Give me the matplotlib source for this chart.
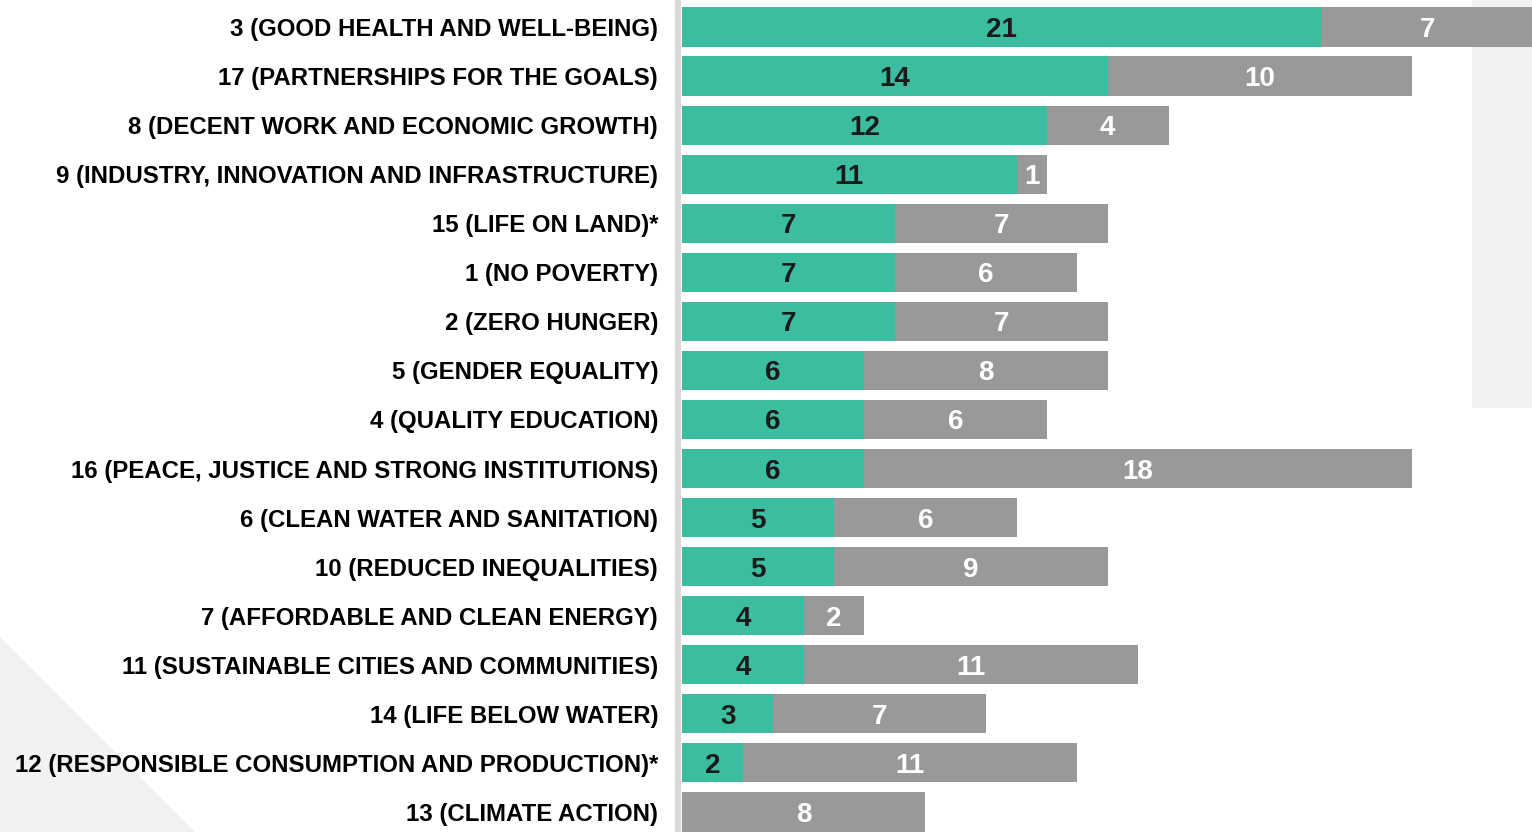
import matplotlib
matplotlib.use("Agg")
import matplotlib.pyplot as plt
from matplotlib.patches import Polygon, Rectangle

categories = [
    "3 (GOOD HEALTH AND WELL-BEING)",
    "17 (PARTNERSHIPS FOR THE GOALS)",
    "8 (DECENT WORK AND ECONOMIC GROWTH)",
    "9 (INDUSTRY, INNOVATION AND INFRASTRUCTURE)",
    "15 (LIFE ON LAND)*",
    "1 (NO POVERTY)",
    "2 (ZERO HUNGER)",
    "5 (GENDER EQUALITY)",
    "4 (QUALITY EDUCATION)",
    "16 (PEACE, JUSTICE AND STRONG INSTITUTIONS)",
    "6 (CLEAN WATER AND SANITATION)",
    "10 (REDUCED INEQUALITIES)",
    "7 (AFFORDABLE AND CLEAN ENERGY)",
    "11 (SUSTAINABLE CITIES AND COMMUNITIES)",
    "14 (LIFE BELOW WATER)",
    "12 (RESPONSIBLE CONSUMPTION AND PRODUCTION)*",
    "13 (CLIMATE ACTION)",
]
series_a = [21, 14, 12, 11, 7, 7, 7, 6, 6, 6, 5, 5, 4, 4, 3, 2, 0]
series_b = [7, 10, 4, 1, 7, 6, 7, 8, 6, 18, 6, 9, 2, 11, 7, 11, 8]

TEAL = "#3dbda0"
GRAY = "#999999"
BG = "#f2f2f2"

plt.rcParams["font.family"] = ["Liberation Sans", "DejaVu Sans"]
plt.rcParams["font.weight"] = "bold"

W, H = 1532, 832
fig = plt.figure(figsize=(W / 100, H / 100), dpi=100)
fig.patch.set_facecolor("white")

# background decorations (figure coords)
fig.patches.append(Rectangle((1472 / W, 1 - 408 / H), 60 / W, 408 / H,
                             transform=fig.transFigure, facecolor=BG,
                             edgecolor="none", zorder=-5))
fig.patches.append(Polygon([(0, 1 - 637 / H), (195 / W, 0), (0, 0)], closed=True,
                           transform=fig.transFigure, facecolor=BG,
                           edgecolor="none", zorder=-5))

ax = fig.add_axes([682 / W, 0, 1 - 682 / W, 1 - 2.5 / H])
ax.patch.set_alpha(0)

for s in ["top", "right", "bottom"]:
    ax.spines[s].set_visible(False)
ax.spines["left"].set_color("#d9d9d9")
ax.spines["left"].set_linewidth(4.5)
ax.spines["left"].set_position(("data", -0.12))

y = list(range(len(categories)))
ax.barh(y, series_a, height=0.8, color=TEAL, zorder=2)
ax.barh(y, series_b, left=series_a, height=0.8, color=GRAY, zorder=2)

for i, (a, b) in enumerate(zip(series_a, series_b)):
    if a > 0:
        ax.text(a / 2, i, str(a), ha="center", va="center_baseline",
                fontsize=20, fontweight="bold", color="#1a1a1a", zorder=3)
    if b > 0:
        ax.text(a + b / 2, i, str(b), ha="center", va="center_baseline",
                fontsize=20, fontweight="bold", color="white", zorder=3)

ax.set_xlim(0, 27.95)
ax.set_ylim(16.41, -0.5)
ax.set_xticks([])
ax.set_yticks(y)
ax.set_yticklabels(categories)
ax.tick_params(axis="y", length=0, pad=14.5, labelsize=17.3, labelcolor="black")

fig.savefig("out.png", dpi=100)
